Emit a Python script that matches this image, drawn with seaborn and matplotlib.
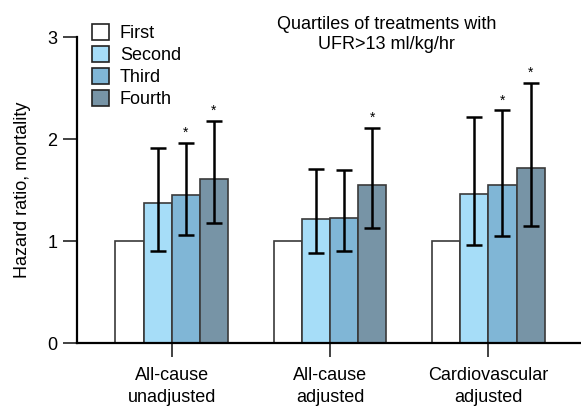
import numpy as np
import pandas as pd
import matplotlib
matplotlib.use("Agg")
import matplotlib.pyplot as plt
import seaborn as sns
from matplotlib.patches import Patch

groups = ["All-cause\nunadjusted", "All-cause\nadjusted", "Cardiovascular\nadjusted"]
quartiles = ["First", "Second", "Third", "Fourth"]
hr = {
    "First":  [1.00, 1.00, 1.00],
    "Second": [1.37, 1.22, 1.46],
    "Third":  [1.45, 1.23, 1.55],
    "Fourth": [1.61, 1.55, 1.72],
}
ci_low = {
    "First":  [1.00, 1.00, 1.00],
    "Second": [0.90, 0.88, 0.96],
    "Third":  [1.06, 0.90, 1.05],
    "Fourth": [1.18, 1.13, 1.15],
}
ci_high = {
    "First":  [1.00, 1.00, 1.00],
    "Second": [1.91, 1.71, 2.22],
    "Third":  [1.96, 1.70, 2.28],
    "Fourth": [2.18, 2.11, 2.55],
}
significant = {
    "First":  [False, False, False],
    "Second": [False, False, False],
    "Third":  [True, False, True],
    "Fourth": [True, True, True],
}
colors = ["#ffffff", "#a6ddf8", "#80b6d6", "#7794a6"]

rows = []
for q in quartiles:
    for i, g in enumerate(groups):
        rows.append(dict(group=g, quartile=q, hr=hr[q][i], lo=ci_low[q][i],
                         hi=ci_high[q][i], sig=significant[q][i]))
df = pd.DataFrame(rows)

sns.set_style("ticks")
plt.rcParams["font.family"] = ["Liberation Sans", "DejaVu Sans"]
plt.rcParams["font.size"] = 13
plt.rcParams["text.color"] = "black"
plt.rcParams["axes.labelcolor"] = "black"
plt.rcParams["xtick.color"] = "black"
plt.rcParams["ytick.color"] = "black"

fig = plt.figure(figsize=(5.81, 4.07), dpi=100)
ax = fig.add_axes([0.1325, 0.157, 0.866, 0.752])

sns.barplot(data=df, x="group", y="hr", hue="quartile", order=groups,
            hue_order=quartiles, palette=colors, saturation=1, width=0.71,
            errorbar=None, edgecolor="#3a3a3a", linewidth=1.2, ax=ax, legend=False)

# error bars & stars at bar centers
for qi, q in enumerate(quartiles):
    cont = ax.containers[qi]
    sub = df[df.quartile == q].set_index("group").loc[groups]
    for bar, (_, r) in zip(cont, sub.iterrows()):
        xc = bar.get_x() + bar.get_width() / 2
        if r.hi > r.lo:
            ax.errorbar(xc, r.hr, yerr=[[r.hr - r.lo], [r.hi - r.hr]], fmt="none",
                        ecolor="black", elinewidth=1.8, capsize=5.5, capthick=1.8)
        if r.sig:
            ax.text(xc, r.hi + 0.1, "*", ha="center", va="center", fontsize=10)

ax.set_ylim(0, 3)
ax.set_xlim(-0.598, 2.579)
ax.set_yticks([0, 1, 2, 3])
ax.set_xlabel("")
ax.set_ylabel("Hazard ratio, mortality", fontsize=13, labelpad=12)
ax.tick_params(axis="both", length=10, width=1.2, labelsize=13, color="#222222")
ax.tick_params(axis="y", pad=4)
ax.tick_params(axis="x", pad=7)
for lbl in ax.get_xticklabels():
    lbl.set_linespacing(1.4)
sns.despine(ax=ax)
for s in ["left", "bottom"]:
    ax.spines[s].set_linewidth(1.6)
    ax.spines[s].set_color("black")

handles = [Patch(facecolor=c, edgecolor="#222222", linewidth=1.2) for c in colors]
fig.legend(handles, quartiles, loc="upper left", bbox_to_anchor=(0.158, 0.94),
           frameon=False, fontsize=13, handlelength=0.95, handleheight=0.95,
           handletextpad=0.6, labelspacing=0.22, borderaxespad=0, borderpad=0)

fig.text(0.665, 0.915, "Quartiles of treatments with\nUFR>13 ml/kg/hr", ha="center",
         va="center", fontsize=13, linespacing=1.2)

fig.savefig("out.png", dpi=100)
